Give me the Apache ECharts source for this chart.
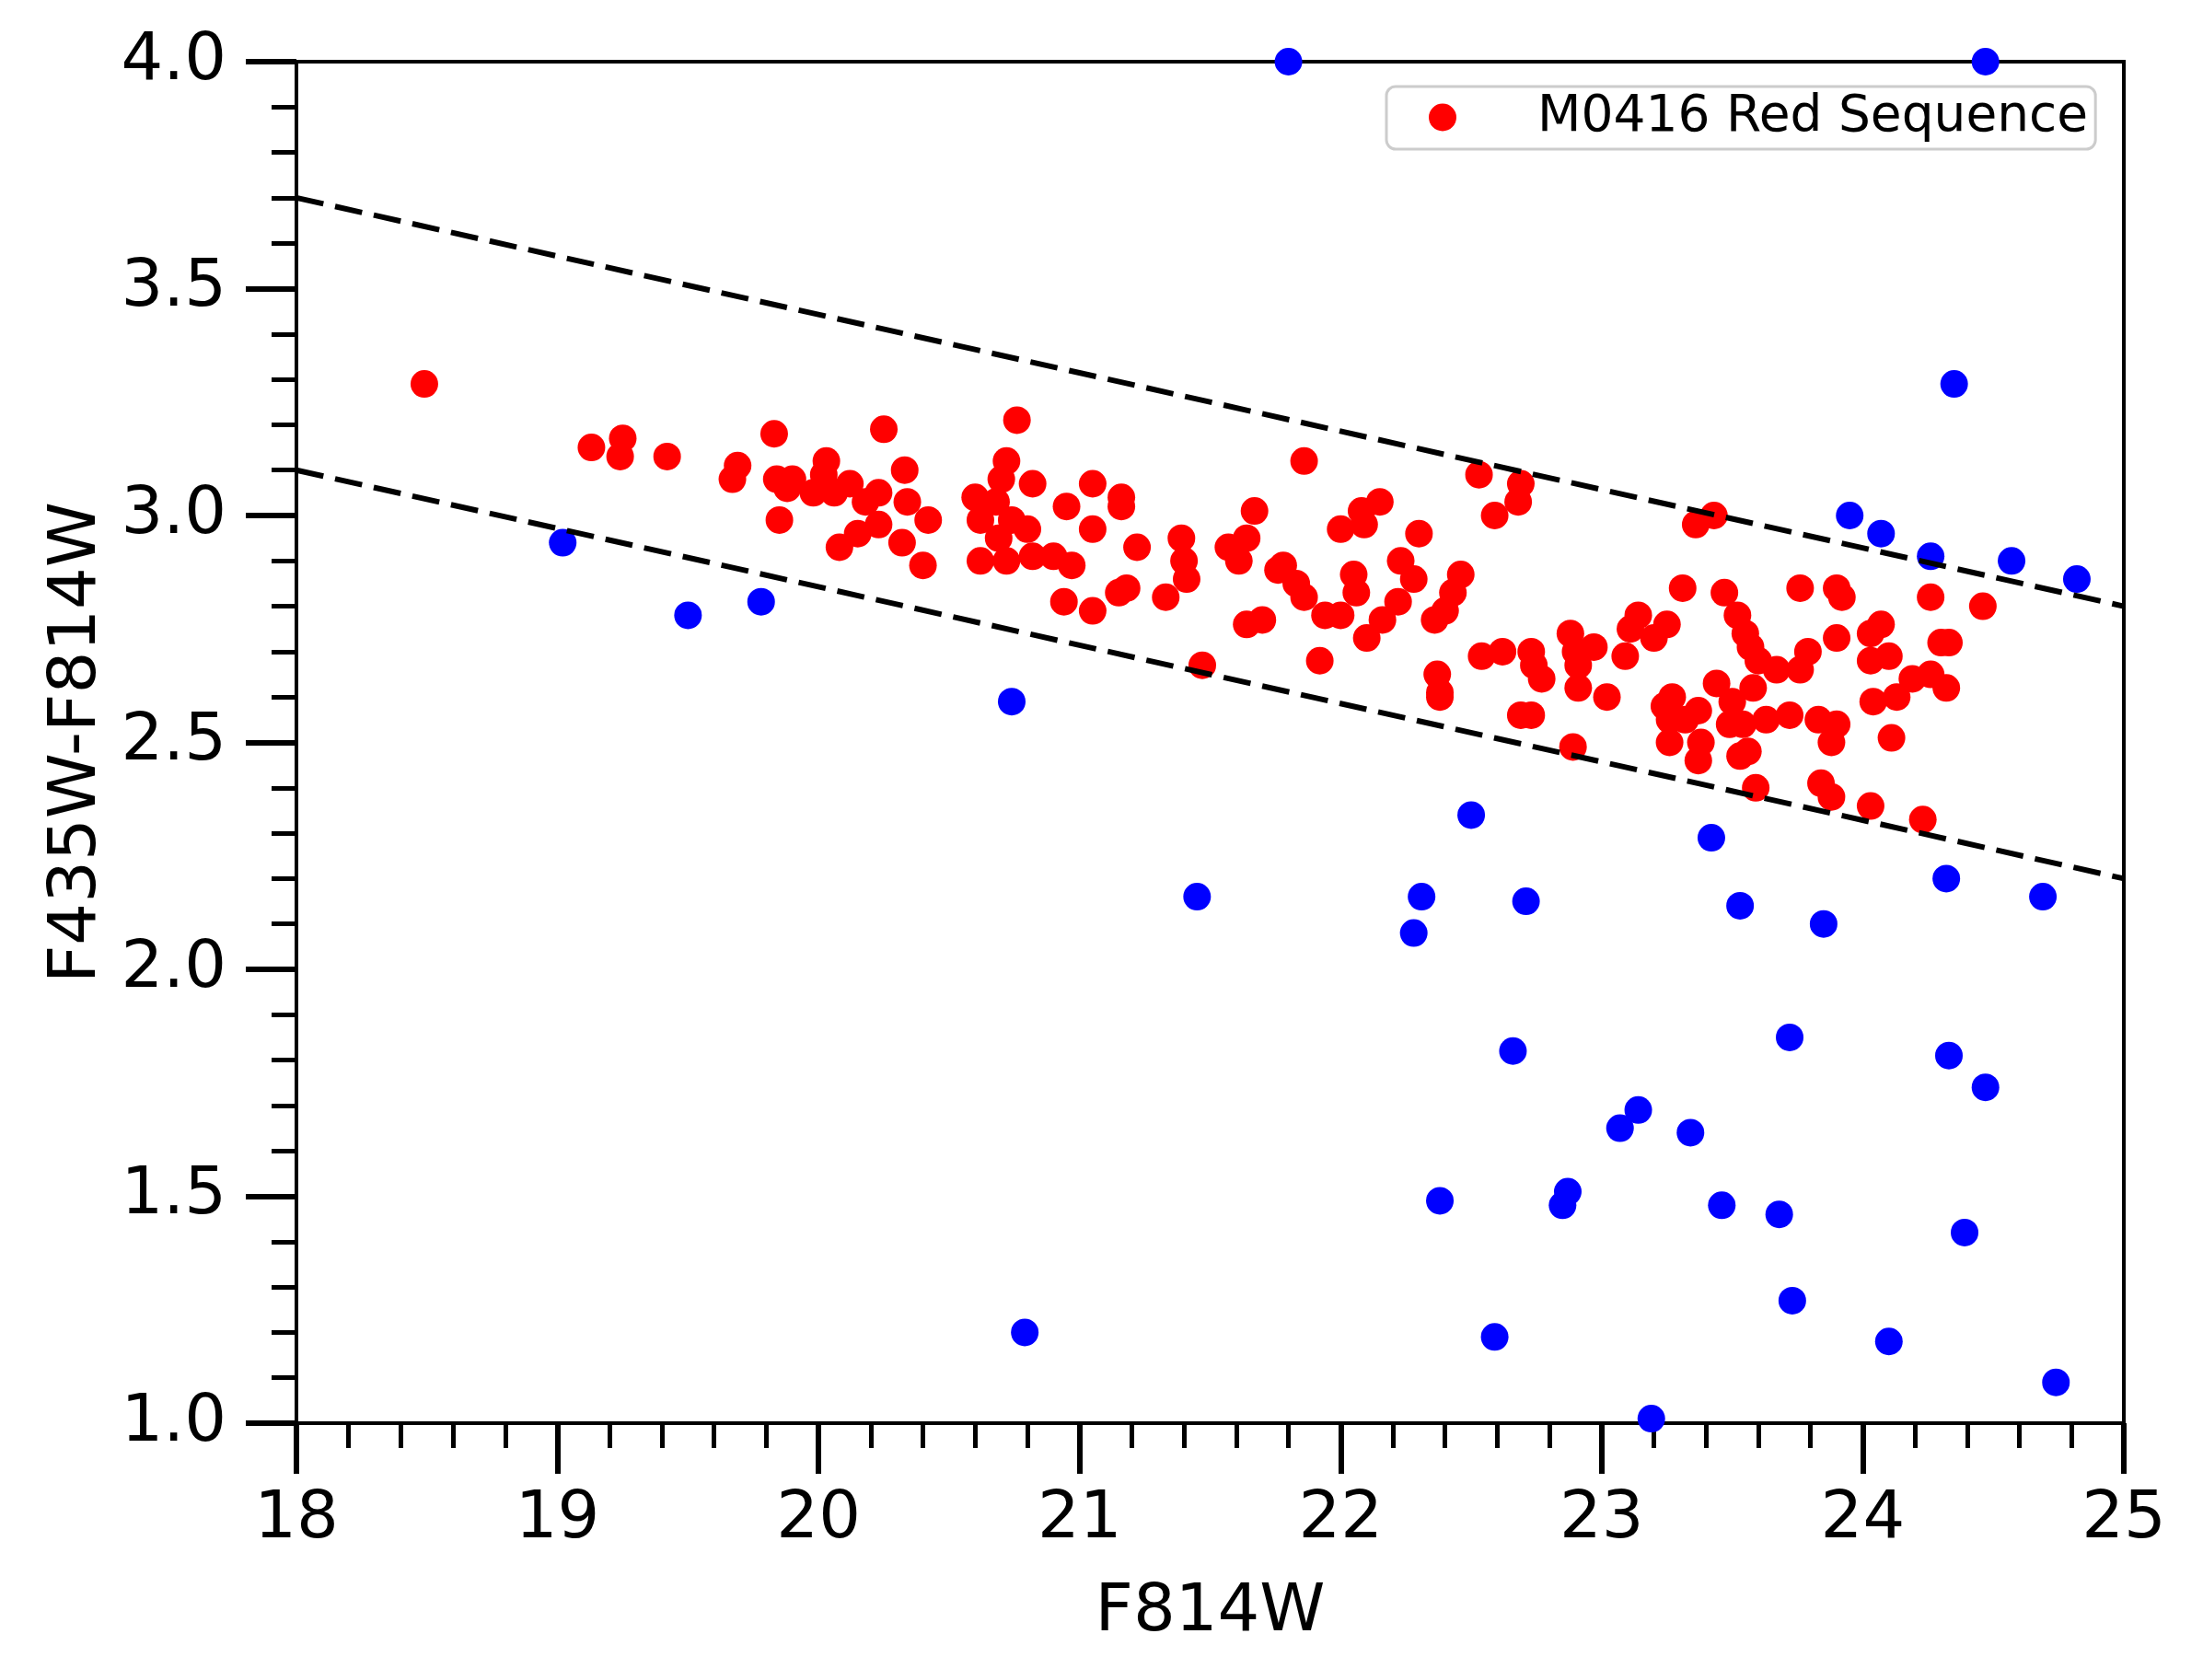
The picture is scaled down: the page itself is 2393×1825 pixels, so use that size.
<!DOCTYPE html>
<html>
<head>
<meta charset="utf-8">
<title>M0416 Red Sequence</title>
<script src="https://cdn.jsdelivr.net/npm/echarts@6.0.0/dist/echarts.min.js"></script>
<style>
  html, body { margin: 0; padding: 0; background: #ffffff; }
  #chart { width: 2393px; height: 1825px; }
</style>
</head>
<body>
<div id="chart"></div>
<script>
// red sequence members: [F814W, F435W-F814W]
const redSequence = [
  [18.49,3.29],[19.13,3.15],[19.25,3.17],[19.24,3.13],[19.42,3.13],[19.69,3.11],[19.67,3.08],[19.83,3.18],
  [19.84,3.08],[19.90,3.08],[19.88,3.06],[20.03,3.12],[20.02,3.09],[19.98,3.05],[20.06,3.05],[20.12,3.07],
  [20.23,3.05],[20.18,3.03],[20.25,3.19],[19.85,2.99],[20.23,2.98],[20.15,2.96],[20.08,2.93],[20.33,3.10],
  [20.34,3.03],[20.32,2.94],[20.42,2.99],[20.40,2.89],
  [20.76,3.21],[20.72,3.12],[20.70,3.08],[20.82,3.07],[20.60,3.04],[20.68,3.03],[20.62,2.99],[20.74,2.99],
  [20.80,2.97],[20.69,2.95],[20.62,2.90],[20.72,2.90],[20.82,2.91],[20.90,2.91],[20.97,2.89],[20.95,3.02],
  [21.05,3.07],[21.05,2.97],[20.94,2.81],[21.05,2.79],
  [21.16,3.04],[21.16,3.02],[21.22,2.93],[21.15,2.83],[21.18,2.84],[21.33,2.82],[21.39,2.95],[21.40,2.90],
  [21.41,2.86],[21.47,2.67],[21.67,3.01],[21.57,2.93],[21.64,2.95],[21.61,2.90],[21.86,3.12],[21.76,2.88],
  [21.78,2.89],[21.83,2.85],[21.86,2.82],[21.64,2.76],[21.70,2.77],[21.92,2.68],
  [21.94,2.78],[22.00,2.78],[22.05,2.87],[22.06,2.83],[22.00,2.97],[22.08,3.01],[22.09,2.98],[22.15,3.03],
  [22.30,2.96],[22.23,2.90],[22.28,2.86],[22.22,2.81],[22.16,2.77],[22.10,2.73],[22.36,2.77],[22.37,2.65],
  [22.38,2.61],[22.38,2.60],[22.46,2.87],[22.43,2.83],[22.40,2.79],[22.53,3.09],[22.69,3.07],[22.68,3.03],
  [22.59,3.00],[22.54,2.69],[22.62,2.70],[22.73,2.70],[22.74,2.67],[22.77,2.64],[22.69,2.56],[22.73,2.56],
  [22.88,2.74],[22.97,2.71],[22.90,2.70],[22.91,2.67],[22.91,2.62],[23.02,2.60],[22.89,2.49],[23.14,2.78],
  [23.11,2.75],[23.09,2.69],[23.25,2.76],[23.20,2.73],[23.31,2.84],[23.36,2.98],[23.43,3.00],
  [23.27,2.60],[23.24,2.58],[23.26,2.55],[23.37,2.57],[23.32,2.55],[23.26,2.50],[23.38,2.50],[23.37,2.46],
  [23.47,2.83],[23.52,2.78],[23.55,2.74],[23.57,2.71],[23.60,2.68],[23.67,2.66],[23.76,2.66],[23.79,2.70],
  [23.76,2.84],[23.90,2.84],[23.92,2.82],[24.26,2.82],[24.46,2.80],[23.90,2.73],[24.03,2.74],[24.07,2.76],
  [24.03,2.68],[24.10,2.69],[24.30,2.72],[24.33,2.72],[24.19,2.64],[24.26,2.65],[24.32,2.62],[24.13,2.60],
  [24.04,2.59],[24.11,2.51],[23.44,2.63],[23.58,2.62],[23.50,2.59],[23.49,2.54],[23.54,2.54],[23.63,2.55],
  [23.72,2.56],[23.83,2.55],[23.90,2.54],[23.88,2.50],[23.53,2.47],[23.56,2.48],[23.59,2.40],[23.84,2.41],
  [23.88,2.38],[24.03,2.36],[24.23,2.33]
];

// everything else (blue)
const otherGalaxies = [
  [21.80,4.00],[24.47,4.00],[19.02,2.94],[19.50,2.78],[19.78,2.81],[20.74,2.59],[21.45,2.16],[22.50,2.34],
  [22.31,2.16],[22.28,2.08],[22.71,2.15],[23.42,2.29],[23.53,2.14],[23.85,2.10],[24.32,2.20],[24.69,2.16],
  [23.95,3.00],[24.07,2.96],[24.26,2.91],[24.57,2.90],[24.82,2.86],[24.35,3.29],[22.66,1.82],[23.72,1.85],
  [24.33,1.81],[24.47,1.74],[23.14,1.69],[23.07,1.65],[23.34,1.64],[22.38,1.49],[22.87,1.51],[22.85,1.48],
  [23.46,1.48],[23.68,1.46],[24.39,1.42],[20.79,1.20],[22.59,1.19],[23.73,1.27],[24.10,1.18],[24.74,1.09],
  [23.19,1.01]
];

// selection band edges
const upperCut = [[18, 3.7], [25, 2.8]];
const lowerCut = [[18, 3.1], [25, 2.2]];

const xTicks = { min: 18, max: 25, step: 1 };
const yTicks = { min: 1.0, max: 4.0, step: 0.5 };

const FONT = 'DejaVu Sans';

const chart = echarts.init(document.getElementById('chart'), null, { renderer: 'canvas' });

function axisBase() {
  return {
    type: 'value',
    axisLine: { show: true, onZero: false, lineStyle: { color: '#000', width: 4 } },
    axisTick: { show: true, inside: false, length: 55, lineStyle: { color: '#000', width: 6 } },
    minorTick: { show: true, splitNumber: 5, length: 27, lineStyle: { color: '#000', width: 5 } },
    splitLine: { show: false },
    minorSplitLine: { show: false },
    nameLocation: 'middle',
    nameTextStyle: { fontFamily: FONT, fontSize: 72, color: '#000' }
  };
}

const option = {
  animation: false,
  backgroundColor: '#ffffff',
  grid: {
    left: 322, right: 86, top: 67, bottom: 279,
    show: true, borderColor: '#000', borderWidth: 4, backgroundColor: 'transparent'
  },
  legend: {
    data: ['M0416 Red Sequence'],
    left: 1506, top: 94,
    orient: 'horizontal',
    icon: 'circle',
    itemWidth: 30, itemHeight: 30,
    padding: [6, 8, 7, 46],
    backgroundColor: '#ffffff',
    borderColor: '#cccccc', borderWidth: 3, borderRadius: 10,
    textStyle: { fontFamily: FONT, fontSize: 55, color: '#000', lineHeight: 55, padding: [0, 0, 0, 83] }
  },
  xAxis: Object.assign(axisBase(), {
    min: xTicks.min, max: xTicks.max, interval: xTicks.step,
    name: 'F814W', nameGap: 170,
    axisLabel: { fontFamily: FONT, fontSize: 72, color: '#000', margin: 69 }
  }),
  yAxis: Object.assign(axisBase(), {
    min: yTicks.min, max: yTicks.max, interval: yTicks.step,
    name: 'F435W-F814W', nameGap: 198,
    axisLabel: { fontFamily: FONT, fontSize: 72, color: '#000', margin: 76,
      formatter: v => v.toFixed(1) }
  }),
  series: [
    {
      name: 'Other', type: 'scatter', data: otherGalaxies,
      symbol: 'circle', symbolSize: 30,
      itemStyle: { color: '#0000ff', opacity: 1 }, z: 2
    },
    {
      name: 'M0416 Red Sequence', type: 'scatter', data: redSequence,
      symbol: 'circle', symbolSize: 30,
      itemStyle: { color: '#ff0000', opacity: 1 }, z: 3
    },
    {
      name: 'upper', type: 'line', data: upperCut, showSymbol: false, symbol: 'none',
      lineStyle: { color: '#000', width: 6, type: [30, 13] }, z: 5, silent: true
    },
    {
      name: 'lower', type: 'line', data: lowerCut, showSymbol: false, symbol: 'none',
      lineStyle: { color: '#000', width: 6, type: [30, 13] }, z: 5, silent: true
    }
  ]
};

chart.setOption(option);
</script>
</body>
</html>
